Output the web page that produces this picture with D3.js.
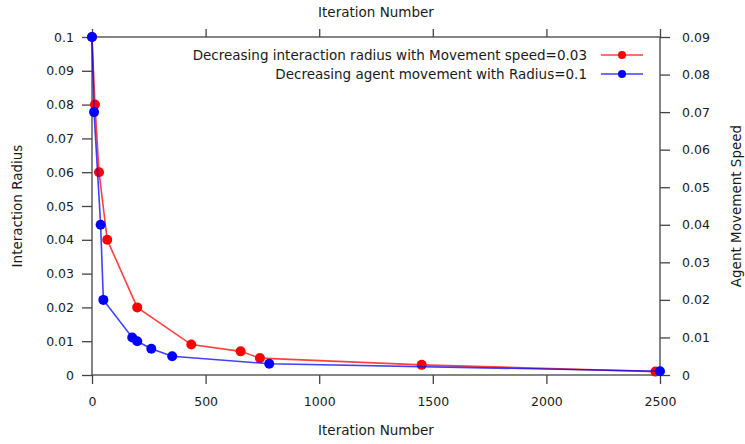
<!DOCTYPE html>
<html>
<head>
<meta charset="utf-8">
<script src="https://cdn.jsdelivr.net/npm/d3@7"></script>
<style>
  html, body { margin: 0; padding: 0; background: #fff; }
  svg { display: block; font-family: "DejaVu Sans", Verdana, sans-serif; }
</style>
</head>
<body>
<svg id="chart" width="745" height="444"></svg>
<script>
// ---- data ----
const radiusIterations = [0, 13, 31, 67, 199, 437, 654, 739, 1451, 2480];
const radiusValues     = [0.1, 0.08, 0.06, 0.04, 0.02, 0.009, 0.007, 0.005, 0.003, 0.001];
const speedIterations  = [0, 9, 38, 50, 177, 199, 261, 353, 780, 2500];
const speedValues      = [0.09, 0.07, 0.04, 0.02, 0.01, 0.009, 0.007, 0.005, 0.003, 0.001];
const xTicks      = [0, 500, 1000, 1500, 2000, 2500];
const yLeftTicks  = [0, 0.01, 0.02, 0.03, 0.04, 0.05, 0.06, 0.07, 0.08, 0.09, 0.1];
const yRightTicks = [0, 0.01, 0.02, 0.03, 0.04, 0.05, 0.06, 0.07, 0.08, 0.09];
const seriesNames = ["Decreasing interaction radius with Movement speed=0.03",
                     "Decreasing agent movement with Radius=0.1"];
const seriesColors = ["#ff0000", "#0000ff"];
const xTitle = "Iteration Number";
const yLeftTitle = "Interaction Radius";
const yRightTitle = "Agent Movement Speed";

// ---- layout ----
const svg = d3.select("#chart");
const L = 92, R = 660, T = 37, B = 375;
const axisColor = "#444";
const textColor = "#1a1a1a";

const x = d3.scaleLinear().domain([0, 2500]).range([L, R]);
const yL = d3.scaleLinear().domain([0, 0.1]).range([B, T]);
const yR = d3.scaleLinear().domain([0, 0.09]).range([B, T]);

function styleAxis(g) {
  g.select(".domain").attr("stroke", axisColor).attr("stroke-width", 1.3);
  g.selectAll(".tick line").attr("stroke", axisColor).attr("stroke-width", 1.3);
  g.selectAll(".tick text").attr("fill", textColor).style("font-size", "12.5px")
   .style("font-family", "'DejaVu Sans', Verdana, sans-serif");
}

// bottom
const gB = svg.append("g").attr("transform", `translate(0,${B})`)
  .call(d3.axisBottom(x).tickValues(xTicks).tickFormat(d3.format("d")).tickSize(9).tickPadding(13));
styleAxis(gB);
// top (mirror, no labels)
const gT = svg.append("g").attr("transform", `translate(0,${T})`)
  .call(d3.axisTop(x).tickValues(xTicks).tickFormat("").tickSize(8));
styleAxis(gT);
// left
const gL = svg.append("g").attr("transform", `translate(${L},0)`)
  .call(d3.axisLeft(yL).tickValues(yLeftTicks).tickFormat(d => d3.format("~g")(+d.toFixed(3))).tickSize(10).tickPadding(8));
styleAxis(gL);
// right
const gR = svg.append("g").attr("transform", `translate(${R},0)`)
  .call(d3.axisRight(yR).tickValues(yRightTicks).tickFormat(d => d3.format("~g")(+d.toFixed(3))).tickSize(10).tickPadding(12));
styleAxis(gR);
[gB, gT, gL, gR].forEach(g => g.select(".domain").attr("d", null));

// border
svg.append("rect").attr("x", L).attr("y", T).attr("width", R - L).attr("height", B - T)
  .attr("fill", "none").attr("stroke", axisColor).attr("stroke-width", 1.3);

// titles
svg.append("text").attr("x", (L + R) / 2).attr("y", 17).attr("text-anchor", "middle")
  .attr("fill", textColor).style("font-size", "13.5px").text(xTitle);
svg.append("text").attr("x", (L + R) / 2).attr("y", 435).attr("text-anchor", "middle")
  .attr("fill", textColor).style("font-size", "13.5px").text(xTitle);
svg.append("text").attr("transform", `translate(22,${(T + B) / 2}) rotate(-90)`).attr("text-anchor", "middle")
  .attr("fill", textColor).style("font-size", "13.5px").text(yLeftTitle);
svg.append("text").attr("transform", `translate(741,${(T + B) / 2}) rotate(-90)`).attr("text-anchor", "middle")
  .attr("fill", textColor).style("font-size", "13.5px").text(yRightTitle);

// series
const series = [
  { xs: radiusIterations, ys: radiusValues, scale: yL },
  { xs: speedIterations,  ys: speedValues,  scale: yR }
];
series.forEach((s, i) => {
  const pts = s.xs.map((v, j) => [x(v), s.scale(s.ys[j])]);
  svg.append("path").attr("d", d3.line()(pts)).attr("fill", "none")
    .attr("stroke", seriesColors[i]).attr("stroke-width", 1.6).attr("stroke-opacity", 0.75);
  svg.append("g").selectAll("circle").data(pts).join("circle")
    .attr("cx", d => d[0]).attr("cy", d => d[1]).attr("r", 5).attr("fill", seriesColors[i]);
});

// legend
const legY = [55, 74];
seriesNames.forEach((name, i) => {
  const g = svg.append("g").attr("transform", `translate(0,${legY[i]})`);
  g.append("text").attr("x", 587).attr("y", 0).attr("dy", "0.36em").attr("text-anchor", "end")
    .attr("fill", textColor).style("font-size", "13.5px").text(name);
  g.append("line").attr("x1", 601).attr("x2", 643).attr("y1", 0).attr("y2", 0)
    .attr("stroke", seriesColors[i]).attr("stroke-width", 1.6).attr("stroke-opacity", 0.75);
  g.append("circle").attr("cx", 622).attr("cy", 0).attr("r", 4).attr("fill", seriesColors[i]);
});
</script>
</body>
</html>
